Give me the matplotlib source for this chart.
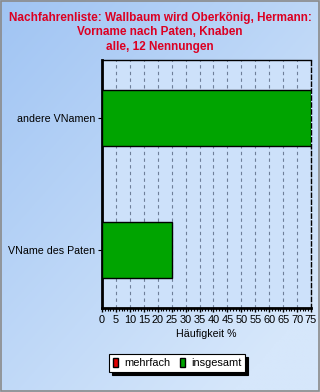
import numpy as np
import matplotlib
matplotlib.use("Agg")
from matplotlib import pyplot as plt
from matplotlib.patches import Patch, Rectangle
from matplotlib.ticker import MultipleLocator

plt.rcParams['font.family'] = ['Liberation Sans', 'DejaVu Sans']

# data
categories = ['VName des Paten', 'andere VNamen']
insgesamt = [25, 75]
mehrfach = [0, 0]
title = "Nachfahrenliste: Wallbaum wird Oberkönig, Hermann:\nVorname nach Paten, Knaben\nalle, 12 Nennungen"

fig = plt.figure(figsize=(3.2, 3.92), dpi=100)

# gradient background
bg = fig.add_axes([0, 0, 1, 1], zorder=-10)
yy, xx = np.mgrid[0:1:200j, 0:1:200j]
t = np.clip(0.55 * xx + 0.6 * (1 - yy), 0, 1)
c0 = np.array([160, 196, 243]) / 255
c1 = np.array([214, 231, 251]) / 255
img = c0[None, None, :] * (1 - t[..., None]) + c1[None, None, :] * t[..., None]
bg.imshow(img, extent=[0, 1, 0, 1], aspect='auto', origin='lower')
bg.add_patch(Rectangle((0.002, 0.003), 0.994, 0.994, fill=False, ec='#8a8a8a', lw=1.2,
                       transform=bg.transAxes))
bg.set_xlim(0, 1)
bg.set_ylim(0, 1)
bg.axis('off')

ax = fig.add_axes([102 / 320, 1 - 308 / 392, 209 / 320, 248 / 392])
ax.set_facecolor('#cde1fa')

y = np.arange(len(categories))
ax.barh(y, insgesamt, height=0.43, color='#00a400', edgecolor='black', lw=1, zorder=3)

ax.set_xlim(0, 75)
ax.set_ylim(-0.44, 1.44)
ax.set_yticks(y)
ax.set_yticklabels(categories, fontsize=7.7)
ax.xaxis.set_major_locator(MultipleLocator(5))
ax.xaxis.set_minor_locator(MultipleLocator(1))
ax.tick_params(axis='x', labelsize=7.9, length=3, width=1, pad=2)
ax.tick_params(axis='x', which='minor', length=2, width=0.8)
ax.tick_params(axis='y', length=3, width=0.8, pad=2)
ax.grid(axis='x', ls=(0, (3, 3)), color='#6f7f99', lw=0.8, zorder=1)
ax.set_xlabel('Häufigkeit %', fontsize=7.7, labelpad=3)

for s in ['left', 'bottom']:
    ax.spines[s].set_linewidth(2)
ax.spines['top'].set_linewidth(1)
ax.spines['right'].set_linewidth(1)
ax.spines['right'].set_linestyle((0, (3, 2)))

fig.text(0.5, 1 - 11.5 / 392, title, ha='center', va='top', color='#dc0022',
         fontsize=8.5, fontweight='bold', linespacing=1.3)

handles = [Patch(facecolor='#e00000', edgecolor='black', label='mehrfach'),
           Patch(facecolor='#00a400', edgecolor='black', label='insgesamt')]
leg = fig.legend(handles=handles, loc='center', bbox_to_anchor=(177 / 320, 1 - 363 / 392),
                 ncol=2, fontsize=7.9, frameon=True, fancybox=False, shadow={'color': 'black', 'alpha': 1},
                 handlelength=0.5, handleheight=1.0, handletextpad=0.5, columnspacing=0.9,
                 borderpad=0.35, borderaxespad=0, edgecolor='black')
leg.get_frame().set_facecolor('white')
leg.get_frame().set_linewidth(0.8)

fig.savefig('out.png', dpi=100)
